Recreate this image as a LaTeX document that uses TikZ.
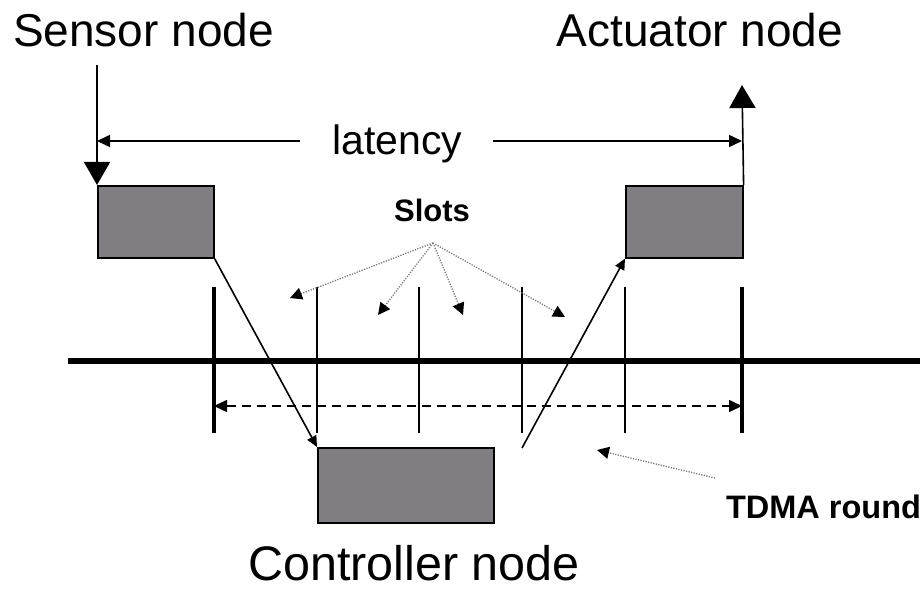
\documentclass[tikz,border=0pt]{standalone}
\usepackage{fontspec}
\setmainfont{Liberation Sans}
\usetikzlibrary{arrows.meta}
\definecolor{boxgray}{RGB}{128,126,130}
\definecolor{dotgray}{RGB}{120,120,120}
\begin{document}
\begin{tikzpicture}[x=1pt,y=-1pt,
  nodebox/.style={draw=black, line width=1.6pt, fill=boxgray, inner sep=0pt, anchor=north west},
  biglabel/.style={anchor=base, inner sep=0pt, font=\fontsize{46}{50}\selectfont},
  boldlabel/.style={anchor=base, inner sep=0pt, font=\fontsize{31}{34}\bfseries\selectfont},
  bigtip/.style={line width=1.6pt, -{Triangle[length=23pt,width=26pt]}},
  lattip/.style={line width=1.6pt, -{Triangle[length=13pt,width=12pt]}},
  msgtip/.style={line width=1.6pt, -{Triangle[length=11pt,width=10pt]}},
  roundtip/.style={line width=1.6pt, dash pattern=on 9pt off 6pt, {Triangle[length=13pt,width=12pt]}-{Triangle[length=13pt,width=12pt]}},
  pointer/.style={draw=dotgray, line width=1.3pt, dash pattern=on 1.2pt off 1.4pt, -{Triangle[length=12pt,width=12pt,fill=black,color=black]}},
  boundary/.style={line width=4pt},
  slotline/.style={line width=2pt},
  bus/.style={line width=6.5pt}]
\useasboundingbox (0,0) rectangle (920,593);

% labels
\node[biglabel] (sensorlbl) at (143.5,47) {Sensor node};
\node[biglabel] (actlbl) at (700,47) {Actuator node};
\node[biglabel, font=\fontsize{48.5}{52}\selectfont] (ctrllbl) at (414,580) {Controller node};
\node[biglabel, font=\fontsize{41}{46}\selectfont] (latlbl) at (397.5,155) {latency};
\node[boldlabel] (slotslbl) at (432,222) {Slots};
\node[boldlabel, font=\fontsize{32.5}{35}\bfseries\selectfont] (tdmalbl) at (823.5,518) {TDMA round};

% node boxes
\node[nodebox, minimum width=116pt, minimum height=72pt] (sensor) at (97,185) {};
\node[nodebox, minimum width=117pt, minimum height=72pt] (actuator) at (625,185) {};
\node[nodebox, minimum width=176pt, minimum height=75pt] (controller) at (317,447) {};

% sampling and actuation
\coordinate (sensin) at (97,65);
\coordinate (actout) at (742,85);
\draw[bigtip] (sensin) -- (sensor.north west);
\draw[bigtip] (actuator.north east) -- (actout);

% latency span
\coordinate (latL) at (97,141);
\coordinate (latR) at (742,141);
\coordinate (latLs) at (300,141);
\coordinate (latRs) at (493,141);
\draw[lattip] (latLs) -- (latL);
\draw[lattip] (latRs) -- (latR);

% bus and slot boundaries
\coordinate (busL) at (68,361);
\coordinate (busR) at (920,361);
\draw[bus] (busL) -- (busR);
\foreach \x in {214,742} \draw[boundary] (\x,287) -- (\x,433);
\foreach \x in {317,419,522,625} \draw[slotline] (\x,287) -- (\x,433);

% TDMA round span
\coordinate (rndL) at (214,406);
\coordinate (rndR) at (742,406);
\draw[roundtip] (rndL) -- (rndR);

% messages
\draw[msgtip] (sensor.south east) -- (controller.north west);
\coordinate (ctrlout) at (522,448);
\draw[msgtip] (ctrlout) -- (actuator.south west);

% slot pointers
\coordinate (slotsrc) at (433,243);
\coordinate (s1) at (290,298);
\coordinate (s2) at (378,315);
\coordinate (s3) at (463,315);
\coordinate (s4) at (565,317);
\foreach \t in {s1,s2,s3,s4} \draw[pointer] (slotsrc) -- (\t);

% round pointer
\coordinate (tdmasrc) at (715,478);
\coordinate (tdmadst) at (597,450);
\draw[pointer] (tdmasrc) -- (tdmadst);
\end{tikzpicture}
\end{document}
